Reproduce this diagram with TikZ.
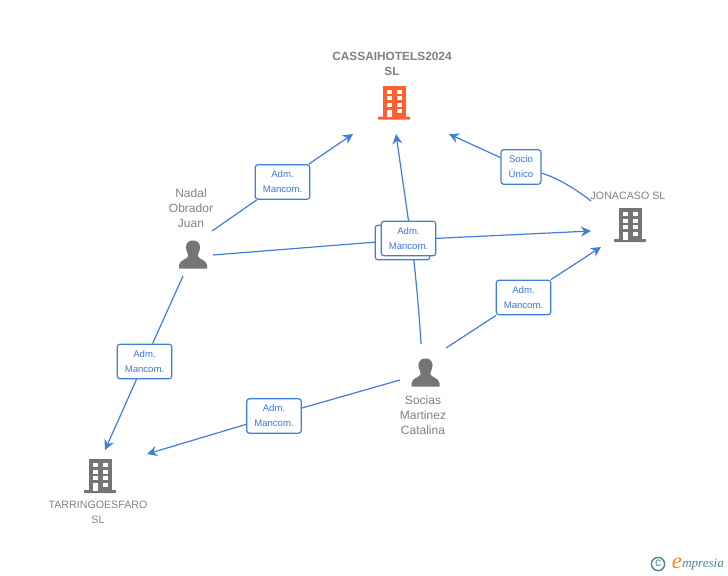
\documentclass[tikz,border=0pt]{standalone}
\usepackage{fontspec}
\setmainfont{Liberation Sans}
\newfontfamily\logofont{Liberation Serif}
\usetikzlibrary{arrows.meta}
\definecolor{linkblue}{HTML}{3F7FDC}
\definecolor{labelblue}{HTML}{3C78D8}
\definecolor{icongray}{HTML}{757575}
\definecolor{txtgray}{HTML}{808080}
\definecolor{hotel}{HTML}{FF5F2E}
\definecolor{logoteal}{HTML}{4A8A9C}
\definecolor{logoorange}{HTML}{F08A1E}
\tikzset{
  x=0.75pt,y=-0.75pt,
  conn/.style={draw=linkblue,line width=0.9pt},
  arrowed/.style={conn,-{Stealth[length=7.5pt,width=7.5pt]}},
  relbox/.style={draw=linkblue,line width=0.9pt,fill=white,rounded corners=2.2pt,minimum width=41pt,minimum height=26pt,inner sep=0pt,text=labelblue,font=\fontsize{7.2pt}{11.2pt}\selectfont,align=center},
  sociobox/.style={relbox,minimum width=30pt},
  ent/.style={text=txtgray,font=\fontsize{8pt}{11.2pt}\selectfont,align=center,inner sep=0pt},
  person/.style={text=txtgray,font=\fontsize{9pt}{11.2pt}\selectfont,align=center,inner sep=0pt},
  pics/building/.style={code={
    \fill[#1] (-11.5,-17) rectangle (11.5,15);
    \fill[#1,rounded corners=0.5pt] (-16,14) rectangle (16,17);
    \foreach \yy in {-13,-6.5,0}{
      \fill[white] (-7.3,\yy) rectangle (-2.3,\yy+4);
      \fill[white] (2.5,\yy) rectangle (7.5,\yy+4);
    }
    \fill[white] (-7.3,7) rectangle (-2.3,14.5);
    \fill[white] (2.5,6.5) rectangle (7.5,10.5);
  }},
  pics/personicon/.style={code={
    \fill[icongray] (0,-14.5) .. controls (-7,-14.5) and (-8,-8.5) .. (-6.5,-4.5) .. controls (-5.8,-2) and (-4.8,-1) .. (-4.8,1) .. controls (-5,4) and (-13,4.5) .. (-14,10) -- (-14,13.5) -- (14,13.5) -- (14,10) .. controls (13,4.5) and (5,4) .. (4.8,1) .. controls (4.8,-1) and (5.8,-2) .. (6.5,-4.5) .. controls (8,-8.5) and (7,-14.5) .. (0,-14.5) -- cycle;
  }},
}
\begin{document}
\begin{tikzpicture}
\useasboundingbox (0,0) rectangle (728,575);
% free ends
\coordinate (nadalA) at (212,231);
\coordinate (nadalB) at (213,255);
\coordinate (nadalC) at (183,276);
\coordinate (sociasA) at (421,344);
\coordinate (sociasB) at (446,348);
\coordinate (sociasC) at (400,380);
\coordinate (jonaA) at (591,201);
\coordinate (cassaiA) at (353,134);
\coordinate (cassaiB) at (396,134);
\coordinate (cassaiC) at (449,134);
\coordinate (jonaB) at (591,231);
\coordinate (jonaC) at (601,247);
\coordinate (tarrA) at (147,454);
\coordinate (tarrB) at (105,450);
% connectors
\draw[conn] (sociasA) .. controls (419,310) and (416,280) .. (413,252);
\draw[arrowed] (413,252) -- (cassaiB);
\draw[conn] (nadalB) -- (402,240);
\draw[arrowed] (402,240) -- (jonaB);
\node[relbox] (r2) at (402.5,242.5) {};
\node[relbox] (r3) at (408.5,238.5) {Adm.\\Mancom.};
\node[relbox] (r1) at (282.5,182) {Adm.\\Mancom.};
\draw[conn] (nadalA) -- (r1);
\draw[arrowed] (r1) -- (cassaiA);
\node[relbox] (r4) at (523.5,297.5) {Adm.\\Mancom.};
\draw[conn] (sociasB) -- (r4);
\draw[arrowed] (r4) -- (jonaC);
\node[relbox] (r5) at (274,416) {Adm.\\Mancom.};
\draw[conn] (sociasC) -- (r5);
\draw[arrowed] (r5) -- (tarrA);
\node[relbox] (r6) at (144.5,361.5) {Adm.\\Mancom.};
\draw[conn] (nadalC) -- (r6);
\draw[arrowed] (r6) -- (tarrB);
\node[sociobox] (r7) at (521,167) {Socio\\Único};
\draw[conn] (jonaA) .. controls (577,190) and (558,178) .. (r7);
\draw[arrowed] (r7) -- (cassaiC);
% entities
\pic at (394,102.5) {building=hotel};
\node[ent,font=\bfseries\fontsize{8.9pt}{11.2pt}\selectfont] (cassai) at (392,63.5) {CASSAIHOTELS2024\\SL};
\pic at (630,225) {building=icongray};
\node[ent] (jona) at (628,195.5) {JONACASO SL};
\pic at (100,476) {building=icongray};
\node[ent] (tarr) at (98,512) {TARRINGOESFARO\\SL};
\pic at (193,255) {personicon};
\node[person] (nadal) at (191,208) {Nadal\\Obrador\\Juan};
\pic at (425.5,373) {personicon};
\node[person] (socias) at (423,415) {Socias\\Martinez\\Catalina};
% logo
\draw[draw=logoteal,line width=1.1pt] (658,564) circle (6.6);
\node[text=logoteal,font=\fontsize{9pt}{9pt}\selectfont,inner sep=0pt] (copyr) at (658,563.5) {c};
\node[text=logoorange,font=\logofont\itshape\fontsize{17pt}{17pt}\selectfont,inner sep=0pt] (elogo) at (677,563) {e};
\node[text=logoteal,font=\logofont\itshape\fontsize{9.8pt}{10pt}\selectfont,inner sep=0pt,anchor=west] (brand) at (682,565) {mpresia};
\end{tikzpicture}
\end{document}
